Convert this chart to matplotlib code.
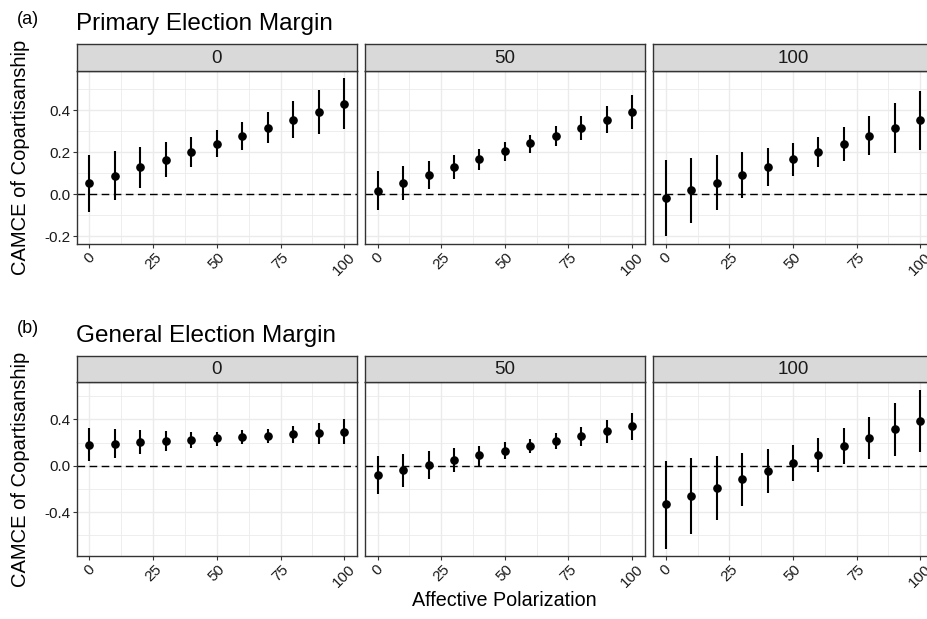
import matplotlib
matplotlib.use("Agg")
import matplotlib.pyplot as plt
from matplotlib.ticker import FixedLocator

plt.rcParams['font.family'] = ['Liberation Sans', 'DejaVu Sans']

# ---------------- data ----------------
polarization = [0, 10, 20, 30, 40, 50, 60, 70, 80, 90, 100]
facet_labels = ["0", "50", "100"]

# (a) Primary Election Margin
prim_0_est = [0.051, 0.087, 0.127, 0.163, 0.202, 0.240, 0.276, 0.314, 0.354, 0.392, 0.430]
prim_0_lo = [-0.084, -0.029, 0.027, 0.079, 0.130, 0.175, 0.210, 0.241, 0.265, 0.286, 0.308]
prim_0_hi = [0.186, 0.205, 0.225, 0.248, 0.273, 0.305, 0.343, 0.389, 0.443, 0.495, 0.551]

prim_50_est = [0.016, 0.054, 0.090, 0.128, 0.165, 0.203, 0.241, 0.278, 0.316, 0.354, 0.390]
prim_50_lo = [-0.078, -0.027, 0.024, 0.071, 0.116, 0.159, 0.197, 0.230, 0.257, 0.290, 0.310]
prim_50_hi = [0.108, 0.132, 0.159, 0.184, 0.213, 0.248, 0.283, 0.325, 0.370, 0.419, 0.471]

prim_100_est = [-0.019, 0.017, 0.054, 0.090, 0.129, 0.165, 0.202, 0.238, 0.276, 0.313, 0.351]
prim_100_lo = [-0.198, -0.138, -0.076, -0.019, 0.038, 0.087, 0.129, 0.157, 0.184, 0.195, 0.210]
prim_100_hi = [0.162, 0.171, 0.184, 0.200, 0.217, 0.243, 0.274, 0.319, 0.371, 0.432, 0.489]

# (b) General Election Margin
gen_0_est = [0.181, 0.190, 0.201, 0.213, 0.224, 0.236, 0.247, 0.259, 0.270, 0.282, 0.291]
gen_0_lo = [0.037, 0.066, 0.098, 0.127, 0.153, 0.173, 0.190, 0.196, 0.193, 0.187, 0.184]
gen_0_hi = [0.322, 0.314, 0.305, 0.299, 0.294, 0.294, 0.305, 0.317, 0.342, 0.371, 0.403]

gen_50_est = [-0.078, -0.035, 0.006, 0.049, 0.089, 0.129, 0.173, 0.216, 0.256, 0.299, 0.340]
gen_50_lo = [-0.245, -0.181, -0.118, -0.058, 0.000, 0.058, 0.106, 0.144, 0.173, 0.199, 0.222]
gen_50_hi = [0.083, 0.104, 0.127, 0.150, 0.173, 0.201, 0.233, 0.282, 0.334, 0.391, 0.455]

gen_100_est = [-0.334, -0.262, -0.190, -0.118, -0.049, 0.023, 0.095, 0.167, 0.242, 0.314, 0.386]
gen_100_lo = [-0.717, -0.593, -0.469, -0.351, -0.239, -0.135, -0.052, 0.012, 0.058, 0.086, 0.115]
gen_100_hi = [0.043, 0.063, 0.083, 0.109, 0.141, 0.181, 0.242, 0.322, 0.423, 0.538, 0.653]

x_ticks = [0, 25, 50, 75, 100]
x_tick_labels = ["0", "25", "50", "75", "100"]
prim_y_ticks = [-0.2, 0.0, 0.2, 0.4]
prim_y_labels = ["-0.2", "0.0", "0.2", "0.4"]
gen_y_ticks = [-0.4, 0.0, 0.4]
gen_y_labels = ["-0.4", "0.0", "0.4"]

# ---------------- layout ----------------
W, H = 927, 619
fig = plt.figure(figsize=(W / 100, H / 100), dpi=100)
fig.patch.set_facecolor("white")


def fx(px):
    return px / W


def fy(py):
    return 1 - py / H


panel_x = [(76.6, 357.0), (365.0, 644.7), (653.0, 933.0)]
rows = [
    dict(top=71, bottom=244, strip_top=44, title="Primary Election Margin", tag="(a)",
         title_base=30, tag_top=11,
         ylim=(-0.238, 0.586), yticks=prim_y_ticks, ylabels=prim_y_labels,
         yminor=[-0.1, 0.1, 0.3, 0.5],
         data=[(prim_0_est, prim_0_lo, prim_0_hi),
               (prim_50_est, prim_50_lo, prim_50_hi),
               (prim_100_est, prim_100_lo, prim_100_hi)]),
    dict(top=382, bottom=556, strip_top=356, title="General Election Margin", tag="(b)",
         title_base=342, tag_top=320,
         ylim=(-0.78, 0.723), yticks=gen_y_ticks, ylabels=gen_y_labels,
         yminor=[-0.6, -0.2, 0.2, 0.6],
         data=[(gen_0_est, gen_0_lo, gen_0_hi),
               (gen_50_est, gen_50_lo, gen_50_hi),
               (gen_100_est, gen_100_lo, gen_100_hi)]),
]

border = "#333333"
gridc = "#EBEBEB"
textc = "#1a1a1a"

for row in rows:
    for j, (x0, x1) in enumerate(panel_x):
        ax = fig.add_axes([fx(x0), fy(row["bottom"]), (x1 - x0) / W,
                           (row["bottom"] - row["top"]) / H])
        est, lo, hi = row["data"][j]
        ax.set_xlim(-5, 105)
        ax.set_ylim(*row["ylim"])
        ax.set_axisbelow(True)
        ax.xaxis.set_major_locator(FixedLocator(x_ticks))
        ax.xaxis.set_minor_locator(FixedLocator([12.5, 37.5, 62.5, 87.5]))
        ax.yaxis.set_major_locator(FixedLocator(row["yticks"]))
        ax.yaxis.set_minor_locator(FixedLocator(row["yminor"]))
        ax.grid(which="major", color=gridc, lw=1.0)
        ax.grid(which="minor", color=gridc, lw=0.6)
        ax.axhline(0, color="black", lw=1.0, ls=(0, (5.5, 3.2)), zorder=2)
        ax.vlines(polarization, lo, hi, color="black", lw=1.5, zorder=3)
        ax.plot(polarization, est, "o", color="black", ms=5.2, zorder=4)
        for s in ax.spines.values():
            s.set_color(border)
            s.set_linewidth(1.0)
        ax.tick_params(which="minor", length=0)
        ax.tick_params(which="major", length=3.2, width=0.8, color=border,
                       labelsize=11, labelcolor=textc, pad=1.5)
        ax.set_xticks(x_ticks)
        ax.set_xticklabels(x_tick_labels, rotation=45, ha="center", va="top")
        if j == 0:
            ax.set_yticks(row["yticks"])
            ax.set_yticklabels(row["ylabels"])
        else:
            ax.tick_params(axis="y", left=False, labelleft=False)
        # strip
        sax = fig.add_axes([fx(x0), fy(row["top"]), (x1 - x0) / W,
                            (row["top"] - row["strip_top"]) / H])
        sax.set_facecolor("#D9D9D9")
        sax.set_xticks([])
        sax.set_yticks([])
        for s in sax.spines.values():
            s.set_color(border)
            s.set_linewidth(1.0)
        sax.text(0.5, 0.47, facet_labels[j], ha="center", va="center",
                 fontsize=13.5, color=textc, transform=sax.transAxes)

    fig.text(fx(17), fy(row["tag_top"]), row["tag"], ha="left", va="top",
             fontsize=13, color="black")
    fig.text(fx(76), fy(row["title_base"]), row["title"], ha="left", va="baseline",
             fontsize=17.5, color="black")
    fig.text(fx(21), fy((row["top"] + row["bottom"]) / 2), "CAMCE of Copartisanship",
             rotation=90, ha="center", va="center", fontsize=14.5, color="black")

fig.text(fx(504.5), fy(600), "Affective Polarization", ha="center", va="center",
         fontsize=14.2, color="black")

fig.savefig("out.png", dpi=100)
